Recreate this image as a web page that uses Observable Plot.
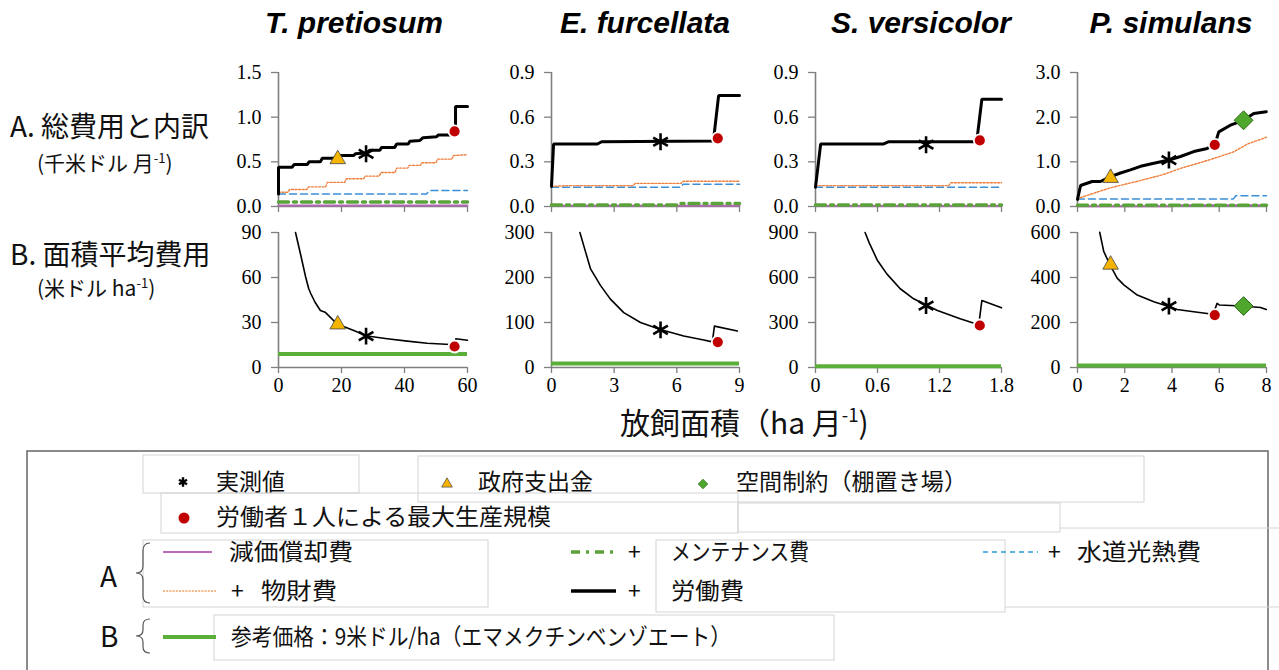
<!DOCTYPE html>
<html><head><meta charset="utf-8">
<script src="https://cdn.jsdelivr.net/npm/d3@7"></script>
<script src="https://cdn.jsdelivr.net/npm/@observablehq/plot@0.6"></script>
<style>
html,body{margin:0;padding:0;background:#fff;}
#root{position:relative;width:1279px;height:670px;overflow:hidden;background:#fff;}
#root svg{position:absolute;}
#root svg.plotpanel text{font-family:'Liberation Serif', serif !important;}
</style></head><body><div id="root"></div>
<script>
// ---------- DATA ----------
const species = ["T. pretiosum", "E. furcellata", "S. versicolor", "P. simulans"];
const rowLabels = ["A. 総費用と内訳", "B. 面積平均費用"];
const xTitle = "放飼面積（ha 月";
const xDomains = [[0, 60], [0, 9], [0, 1.8], [0, 8]];
const xTickValues = [[0, 20, 40, 60], [0, 3, 6, 9], [0, 0.6, 1.2, 1.8], [0, 2, 4, 6, 8]];
const yDomainsA = [[0, 1.5], [0, 0.9], [0, 0.9], [0, 3]];
const yTicksA = [[0, 0.5, 1, 1.5], [0, 0.3, 0.6, 0.9], [0, 0.3, 0.6, 0.9], [0, 1, 2, 3]];
const yDomainsB = [[0, 90], [0, 300], [0, 900], [0, 600]];
const yTicksB = [[0, 30, 60, 90], [0, 100, 200, 300], [0, 300, 600, 900], [0, 200, 400, 600]];
const referencePrice = 9; // 米ドル/ha

// A: total cost (千米ドル/月), cumulative components  [x(ha/月), y]
const tpLabor = [[0,0.14],[0,0.44],[4.3,0.44],[5,0.47],[9.1,0.47],[9.7,0.5],[13.3,0.5],[13.9,0.54],[17.6,0.54],[19.7,0.57],[23.8,0.57],[24.4,0.59],[28,0.6],[29,0.63],[32.2,0.63],[32.7,0.66],[36.9,0.66],[37.5,0.7],[41.2,0.7],[41.7,0.73],[44.9,0.74],[45.9,0.77],[50.2,0.78],[50.7,0.8],[54.3,0.8],[55.6,0.83],[56.2,0.83],[56.2,1.12],[60,1.12]];
const tpMaterial = [[0,0.16],[3,0.16],[3.5,0.19],[9,0.19],[9.5,0.22],[15,0.22],[15.5,0.27],[21,0.27],[21.5,0.31],[27,0.31],[27.5,0.34],[32,0.34],[32.5,0.38],[37,0.38],[37.5,0.43],[41,0.43],[41.5,0.46],[45,0.46],[45.5,0.49],[50,0.49],[50.5,0.53],[55,0.53],[55.5,0.57],[60,0.58]];
const tpUtility = [[0,0.14],[47,0.14],[48,0.18],[60,0.18]];
const tpMaint = [[0,0.05],[60,0.05]];
const tpDeprec = [[0,0.01],[60,0.01]];

const efLabor = [[0,0.135],[0.1,0.42],[2.2,0.42],[2.4,0.435],[7.75,0.44],[8.0,0.745],[9,0.745]];
const efMaterial = [[0,0.135],[0.7,0.14],[3.9,0.14],[4,0.155],[6.2,0.155],[6.3,0.17],[9,0.17]];
const efUtility = [[0,0.13],[6.2,0.13],[6.3,0.15],[9,0.15]];
const efMaint = [[0,0.01],[6,0.01],[6.1,0.02],[9,0.02]];
const efDeprec = [[0,0.005],[9,0.005]];

const svLabor = [[0,0.13],[0.05,0.42],[0.66,0.42],[0.71,0.435],[1.56,0.435],[1.61,0.72],[1.8,0.72]];
const svMaterial = [[0,0.14],[1.29,0.14],[1.31,0.16],[1.8,0.16]];
const svUtility = [[0,0.13],[1.8,0.13]];
const svMaint = [[0,0.01],[1.8,0.01]];
const svDeprec = [[0,0.004],[1.8,0.004]];

const psLabor = [[0,0.16],[0.13,0.47],[0.62,0.56],[0.97,0.56],[1.4,0.67],[1.82,0.75],[2.24,0.82],[2.67,0.9],[3.23,0.97],[3.87,1.04],[4.36,1.12],[4.92,1.23],[5.49,1.3],[5.81,1.38],[5.98,1.67],[6.47,1.82],[7.03,1.93],[7.46,2.08],[7.99,2.12]];
const psMaterial = [[0,0.15],[0.13,0.2],[1.4,0.42],[2.5,0.56],[3.6,0.71],[4.4,0.86],[5.5,1.03],[6.6,1.22],[7.2,1.4],[8,1.55]];
const psUtility = [[0,0.17],[6.6,0.17],[6.7,0.24],[8,0.24]];
const psMaint = [[0,0.03],[8,0.03]];
const psDeprec = [[0,0.005],[4,0.005],[4.2,0.03],[8,0.03]];

// B: cost per area (米ドル/ha)
const tpArea = [[5.4,90],[7.0,75.5],[8.6,60.5],[9.6,52.5],[10.2,49.5],[11.6,43.5],[13.3,38],[14.8,36.9],[18.6,29],[23.9,24.7],[28.2,21],[34.5,19.2],[40.9,17.6],[47.2,16.2],[54.6,15.3],[55.9,15],[56.3,19.2],[60,18.2]];
const efArea = [[1.36,300],[1.63,257],[1.87,219],[2.35,182],[2.82,152],[3.46,122],[4.26,100],[5.25,84],[6.33,70],[7.29,61],[7.7,57],[7.8,92],[8.9,81]];
const svArea = [[0.48,900],[0.52,831],[0.6,713],[0.69,624],[0.82,525],[0.95,458],[1.08,413],[1.18,380],[1.4,325],[1.55,291],[1.58,283],[1.61,447],[1.8,398]];
const psArea = [[0.94,601],[1.11,516],[1.37,457],[1.68,397],[1.96,367],[2.53,322],[3.23,292],[3.8,273],[4.22,258],[4.92,248],[5.49,240],[5.73,235],[5.91,285],[6.0,278],[6.97,273],[7.75,267],[7.99,258]];

// markers [x, yA, yB]
const observed   = [[27.8,0.59,20.9],[5.22,0.435,83.5],[1.07,0.415,413],[3.87,1.04,273]];
const subsidy    = [[18.8,0.53,28.7],null,null,[1.4,0.64,457]];
const maxScale   = [[55.9,0.84,14],[7.96,0.458,56.6],[1.59,0.444,280],[5.81,1.38,233]];
const spaceLimit = [null,null,null,[7.03,1.93,273]];

const legendMarkerLabels = ["実測値", "政府支出金", "空間制約（棚置き場）", "労働者１人による最大生産規模"];
const legendLineLabels = ["減価償却費", "メンテナンス費", "水道光熱費", "物財費", "労働費"];
const legendRefLabel = "参考価格：9米ドル/ha（エマメクチンベンゾエート）";

const seriesA = [
  {labor: tpLabor, material: tpMaterial, utility: tpUtility, maint: tpMaint, deprec: tpDeprec},
  {labor: efLabor, material: efMaterial, utility: efUtility, maint: efMaint, deprec: efDeprec},
  {labor: svLabor, material: svMaterial, utility: svUtility, maint: svMaint, deprec: svDeprec},
  {labor: psLabor, material: psMaterial, utility: psUtility, maint: psMaint, deprec: psDeprec}
];
const seriesB = [tpArea, efArea, svArea, psArea];

// ---------- STYLE / LAYOUT ----------
const C = {
  deprec: "#b565b5", maint: "#5aa33a", utility: "#3b8fd6", material: "#f07f3c",
  labor: "#000", ref: "#5aae3a", axis: "#808080", tri: "#f5b400", red: "#c00000", dia: "#4fa72e"
};
const colLeft = [278, 551, 815, 1077];
const colWidth = [189, 188, 186, 189];
const rowTop = [72, 232];
const rowH = [134, 135];
const ML = 60, MR = 16, MT = 10, MB = 32;
const serif = "Liberation Serif";
const root = document.getElementById("root");

const X = d => d[0], Y = d => d[1];

function makePanel(row, i) {
  const w = colWidth[i], h = rowH[row];
  const marks = [];
  const xd = xDomains[i];
  if (row === 0) {
    const s = seriesA[i];
    marks.push(
      Plot.line(s.deprec, {x: X, y: Y, stroke: C.deprec, strokeWidth: 2}),
      Plot.line(s.maint, {x: X, y: Y, stroke: C.maint, strokeWidth: 3.5, strokeDasharray: "10,5,3,5"}),
      Plot.line(s.utility, {x: X, y: Y, stroke: C.utility, strokeWidth: 1.5, strokeDasharray: "7,4"}),
      Plot.line(s.material, {x: X, y: Y, stroke: C.material, strokeWidth: 1.4, strokeDasharray: "2,1.6"}),
      Plot.line(s.labor, {x: X, y: Y, stroke: C.labor, strokeWidth: 3, strokeLinejoin: "miter"})
    );
  } else {
    marks.push(
      Plot.ruleY([referencePrice], {x1: xd[0], x2: xd[1], stroke: C.ref, strokeWidth: 4}),
      Plot.line(seriesB[i], {x: X, y: Y, stroke: "#000", strokeWidth: 1.6})
    );
  }
  const yi = row === 0 ? 1 : 2;
  const pick = arr => arr[i] ? [arr[i]] : [];
  marks.push(
    Plot.dot(pick(subsidy), {x: d => d[0], y: d => d[yi], symbol: "triangle", r: 5.8, fill: C.tri, stroke: "#444", strokeWidth: 0.8}),
    Plot.dot(pick(spaceLimit), {x: d => d[0], y: d => d[yi], symbol: "diamond2", r: 8.5, fill: C.dia, stroke: "#2f6b1a", strokeWidth: 1}),
    Plot.dot(pick(observed), {x: d => d[0], y: d => d[yi], symbol: "asterisk", r: 8, stroke: "#000", strokeWidth: 2.6}),
    Plot.dot(pick(maxScale), {x: d => d[0], y: d => d[yi], symbol: "circle", r: 6, fill: C.red, stroke: "#fff", strokeWidth: 1.8})
  );
  const yDom = row === 0 ? yDomainsA[i] : yDomainsB[i];
  const yT = row === 0 ? yTicksA[i] : yTicksB[i];
  const yFmt = row === 0 ? d3.format(".1f") : d3.format("d");
  const xFmt = row === 0 ? () => "" : (d => String(d));
  const p = Plot.plot({
    className: "plotpanel",
    width: w + ML + MR, height: h + MT + MB,
    marginLeft: ML, marginRight: MR, marginTop: MT, marginBottom: MB,
    x: {domain: xd}, y: {domain: yDom},
    style: {fontFamily: serif, fontSize: "20px", color: "#000", background: "transparent", overflow: "visible"},
    marks: [
      Plot.axisY({ticks: yT, tickFormat: yFmt, tickSize: 7, tickPadding: 10, stroke: C.axis, strokeWidth: 1.3, fill: "#000", label: null, fontFamily: serif, fontSize: 20}),
      Plot.axisX({ticks: xTickValues[i], tickFormat: xFmt, tickSize: 6, tickPadding: 4, stroke: C.axis, strokeWidth: 1.3, fill: "#000", label: null, fontFamily: serif, fontSize: 20}),
      Plot.ruleX([xd[0]], {stroke: C.axis, strokeWidth: 1.6}),
      Plot.ruleY([0], {stroke: C.axis, strokeWidth: 1.6}),
      ...marks
    ]
  });
  p.classList.add("plotpanel");
  p.style.left = (colLeft[i] - ML) + "px";
  p.style.top = (rowTop[row] - MT) + "px";
  root.appendChild(p);
}

for (let r = 0; r < 2; r++) for (let i = 0; i < 4; i++) makePanel(r, i);

// ---------- TEXT & LEGEND OVERLAY ----------
const svg = d3.select(root).append("svg").attr("width", 1279).attr("height", 670)
  .style("left", "0px").style("top", "0px").style("pointer-events", "none");
const jp = "'Noto Sans CJK JP', 'Noto Sans', sans-serif";

// column titles
const titleX = [354, 645, 921, 1171];
species.forEach((s, i) => {
  svg.append("text").attr("x", titleX[i]).attr("y", 22).attr("dy", "0.35em")
    .attr("text-anchor", "middle").attr("font-family", "'Liberation Sans', Arial, sans-serif")
    .attr("font-weight", "bold").attr("font-style", "italic").attr("font-size", 30).text(s);
});

// row labels
function rowText(x, y, size, parts) {
  const t = svg.append("text").attr("x", x).attr("y", y).attr("dy", "0.35em")
    .attr("font-family", jp).attr("font-size", size).attr("fill", "#111");
  parts.forEach(p => {
    const ts = t.append("tspan").text(p.t);
    if (p.sup) ts.attr("font-size", size * 0.62).attr("dy", -size * 0.4);
    if (p.down) ts.attr("dy", size * 0.4);
  });
  return t;
}
rowText(10, 127, 28, [{t: rowLabels[0]}]);
rowText(37, 164, 21, [{t: "(千米ドル 月"}, {t: "-1", sup: true}, {t: ")", down: true}]);
rowText(10, 255, 28, [{t: rowLabels[1]}]);
rowText(37, 289, 21, [{t: "(米ドル ha"}, {t: "-1", sup: true}, {t: ")", down: true}]);

// x axis title
rowText(620, 423, 30, [{t: xTitle}, {t: "-1", sup: true}, {t: ")", down: true}]);

// legend frame
svg.append("rect").attr("x", 27).attr("y", 451).attr("width", 1241).attr("height", 240)
  .attr("fill", "none").attr("stroke", "#666").attr("stroke-width", 1.5);
const faint = "#d4d4d4";
[[143,455,216,38],[418,456,726,46],[161,493,577,40],[738,503,322,29],[143,540,345,67],[656,540,349,72],[214,615,620,45]]
  .forEach(([x,y,w,h]) => svg.append("rect").attr("x", x).attr("y", y).attr("width", w).attr("height", h)
    .attr("fill", "none").attr("stroke", faint).attr("stroke-width", 1));
[[1060,528,1279,528],[1005,607,1279,607]].forEach(([x1,y1,x2,y2]) =>
  svg.append("line").attr("x1",x1).attr("y1",y1).attr("x2",x2).attr("y2",y2).attr("stroke", faint));

function ltext(x, y, s, size = 23, len) {
  const t = svg.append("text").attr("x", x).attr("y", y).attr("dy", "0.35em")
    .attr("font-family", jp).attr("font-size", size).attr("fill", "#111").text(s);
  if (len) t.attr("textLength", len).attr("lengthAdjust", "spacingAndGlyphs");
  return t;
}
function sym(x, y, type, size, fill, stroke, sw) {
  svg.append("path").attr("d", d3.symbol(type, size)()).attr("transform", `translate(${x},${y})`)
    .attr("fill", fill).attr("stroke", stroke).attr("stroke-width", sw);
}
// markers
sym(183, 482, d3.symbolAsterisk, 60, "none", "#000", 2.4);
ltext(216, 482, legendMarkerLabels[0]);
sym(447, 484, d3.symbolTriangle, 50, C.tri, "#444", 0.7);
ltext(478, 482, legendMarkerLabels[1]);
sym(703, 484, d3.symbolDiamond2, 60, C.dia, "#2f6b1a", 0.7);
ltext(736, 482, legendMarkerLabels[2], 23, 231);
svg.append("circle").attr("cx", 184).attr("cy", 518).attr("r", 5.5).attr("fill", C.red);
ltext(216, 517, legendMarkerLabels[3], 23, 335);

// group A lines
svg.append("text").attr("x", 100).attr("y", 577).attr("dy", "0.35em").attr("font-family", jp).attr("font-size", 28).attr("fill", "#111").text("A");
svg.append("path").attr("d", "M150,543 Q143,543 143,551 L143,566 Q143,573 136,573 Q143,573 143,580 L143,596 Q143,603 150,603")
  .attr("fill", "none").attr("stroke", "#555").attr("stroke-width", 1.2);
function lline(x1, x2, y, stroke, sw, dash) {
  const l = svg.append("line").attr("x1", x1).attr("x2", x2).attr("y1", y).attr("y2", y)
    .attr("stroke", stroke).attr("stroke-width", sw);
  if (dash) l.attr("stroke-dasharray", dash);
}
lline(163, 212, 552, "#a43aa4", 1.4);
ltext(229, 552, legendLineLabels[0], 23, 124);
lline(571, 616, 552, C.maint, 3.5, "9,6,3,6");
ltext(628, 552, "+", 23);
ltext(671, 552, legendLineLabels[1], 23, 138);
lline(983, 1038, 552, "#2aa0e0", 1.4, "5,4");
ltext(1048, 552, "+", 23);
ltext(1077, 552, legendLineLabels[2], 23, 124);
lline(163, 216, 591, "#f4a060", 1.5, "2,1.2");
ltext(231, 591, "+", 23);
ltext(261, 591, legendLineLabels[3], 23, 76);
lline(571, 616, 591, "#000", 3.5);
ltext(628, 591, "+", 23);
ltext(671, 591, legendLineLabels[4], 23, 73);

// group B
svg.append("text").attr("x", 100).attr("y", 637).attr("dy", "0.35em").attr("font-family", jp).attr("font-size", 28).attr("fill", "#111").text("B");
svg.append("path").attr("d", "M150,619 Q143,619 143,625 L143,630 Q143,636 136,636 Q143,636 143,642 L143,647 Q143,653 150,653")
  .attr("fill", "none").attr("stroke", "#555").attr("stroke-width", 1.2);
lline(163, 216, 637, C.ref, 4);
ltext(231, 637, legendRefLabel, 23, 500);
</script></body></html>
